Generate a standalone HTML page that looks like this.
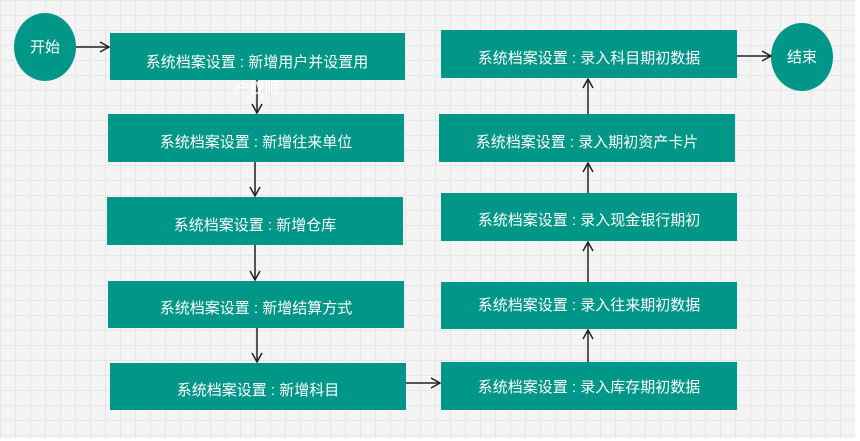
<!DOCTYPE html>
<html><head><meta charset="utf-8"><style>
html,body{margin:0;padding:0;background:#fff;}
svg{display:block;}
text{font-family:"Liberation Sans","Noto Sans CJK SC",sans-serif;font-size:15px;fill:#fff;}
</style></head><body>
<svg width="860" height="441" viewBox="0 0 860 441" xmlns="http://www.w3.org/2000/svg">
<defs>
<pattern id="g" width="15" height="15" patternUnits="userSpaceOnUse">
<rect width="15" height="15" fill="#f4f4f4"/>
<path d="M0 0.5H15M0.5 0V15" stroke="#e6e6e6" stroke-width="1"/>
</pattern>
<marker id="a" markerWidth="12" markerHeight="12" refX="10" refY="6" orient="auto" markerUnits="userSpaceOnUse">
<path d="M1 1L10 6L1 11" fill="none" stroke="#222" stroke-width="1.5"/>
</marker>
</defs>
<rect x="0" y="0" width="855" height="438" fill="url(#g)"/>
<g fill="#009688">
<ellipse cx="45" cy="47" rx="31" ry="34"/>
<ellipse cx="802" cy="57" rx="31" ry="34"/>
<rect x="110" y="33" width="295" height="47"/>
<rect x="108" y="114" width="296" height="48"/>
<rect x="107" y="197" width="296" height="48"/>
<rect x="108" y="281" width="296" height="47"/>
<rect x="110" y="363" width="296" height="47"/>
<rect x="441" y="30" width="296" height="48"/>
<rect x="439" y="114" width="296" height="48"/>
<rect x="441" y="193" width="296" height="48"/>
<rect x="441" y="282" width="296" height="47"/>
<rect x="441" y="362" width="296" height="48"/>
</g>
<g stroke="#222" stroke-width="1.5" fill="none" marker-end="url(#a)">
<path d="M76 47H109"/>
<path d="M257 80V113"/>
<path d="M255 162V196"/>
<path d="M255 245V280"/>
<path d="M257 328V362"/>
<path d="M406 383H440"/>
<path d="M588 362V330"/>
<path d="M588 282V242"/>
<path d="M588 193V163"/>
<path d="M588 114V79"/>
<path d="M737 56H771"/>
</g>
<g text-anchor="middle">
<text x="45" y="52">开始</text>
<text x="802" y="62">结束</text>
<text x="257" y="67">系统档案设置 : 新增用户并设置用</text>
<text x="257" y="93">户权限</text>
<text x="256" y="147">系统档案设置 : 新增往来单位</text>
<text x="255" y="230">系统档案设置 : 新增仓库</text>
<text x="256" y="313">系统档案设置 : 新增结算方式</text>
<text x="258" y="395">系统档案设置 : 新增科目</text>
<text x="589" y="63">系统档案设置 : 录入科目期初数据</text>
<text x="587" y="147">系统档案设置 : 录入期初资产卡片</text>
<text x="589" y="225">系统档案设置 : 录入现金银行期初</text>
<text x="589" y="310">系统档案设置 : 录入往来期初数据</text>
<text x="589" y="392">系统档案设置 : 录入库存期初数据</text>
</g>
</svg>
</body></html>
